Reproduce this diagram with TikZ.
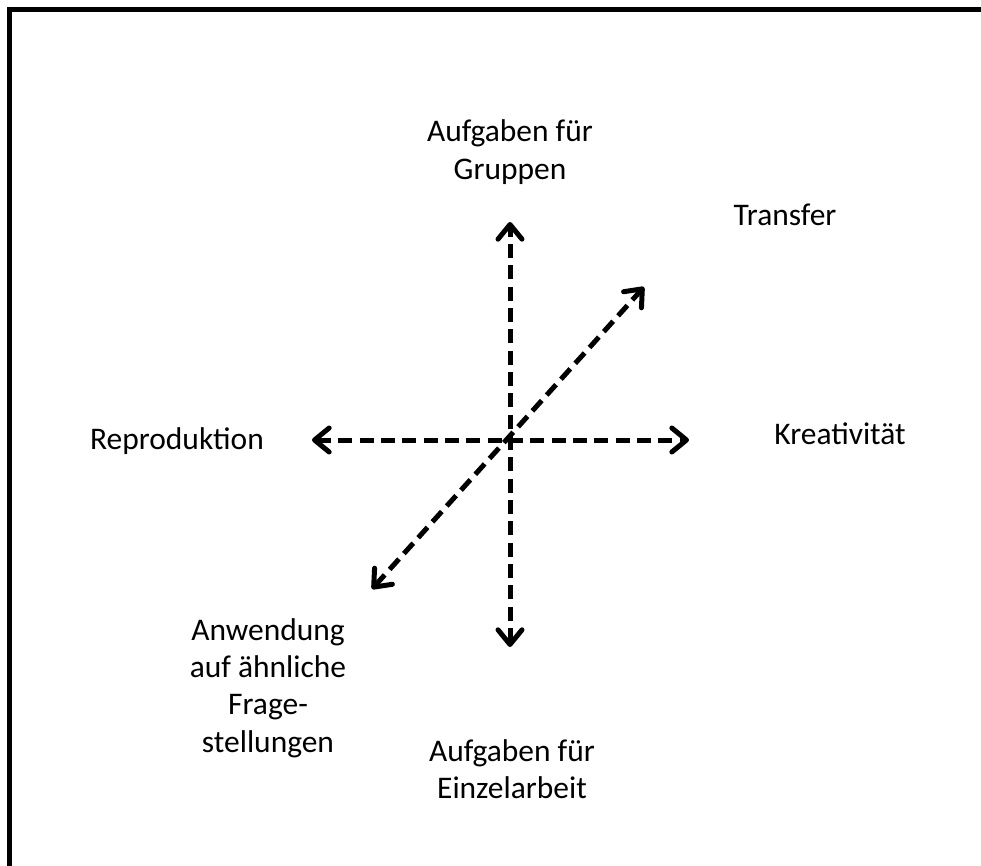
\documentclass[tikz,border=0pt]{standalone}
\usepackage{fontspec}
\setmainfont{Carlito}
\usetikzlibrary{arrows.meta}
\begin{document}
\begin{tikzpicture}[x=0.75pt,y=-0.75pt,
  >={Straight Barb[length=11pt,width=18pt,line cap=round,line join=round]},
  axis/.style={<->, line width=3.75pt, dash pattern=on 10.5pt off 5.5pt},
  lbl/.style={align=center, font=\fontsize{23.6pt}{28pt}\selectfont, inner sep=0pt},
  frame/.style={line width=4pt, line join=miter}]
  \useasboundingbox (0,0) rectangle (981,866);
  % frame corner
  \coordinate (fa) at (9.5,866);
  \coordinate (fb) at (9.5,9.5);
  \coordinate (fc) at (981,9.5);
  \draw[frame] (fa) -- (fb) -- (fc);
  % axis end points
  \coordinate (top) at (510,222);
  \coordinate (bottom) at (510,647);
  \coordinate (left) at (312,440);
  \coordinate (right) at (689,440);
  \coordinate (ne) at (644,287);
  \coordinate (sw) at (372,589);
  \draw[axis] (bottom) -- (top);
  \draw[axis] (left) -- (right);
  \draw[axis] (sw) -- (ne);
  % labels
  \node[lbl] (gruppen) at (510,152) {Aufgaben für\\Gruppen};
  \node[lbl] (transfer) at (785,215) {Transfer};
  \node[lbl] (repro) at (177,441) {Reproduktion};
  \node[lbl] (kreativ) at (840,434) {Kreativität};
  \node[lbl] (anwendung) at (268,688) {Anwendung\\auf ähnliche\\Frage-\\stellungen};
  \node[lbl] (einzel) at (512,769) {Aufgaben für\\Einzelarbeit};
\end{tikzpicture}
\end{document}
